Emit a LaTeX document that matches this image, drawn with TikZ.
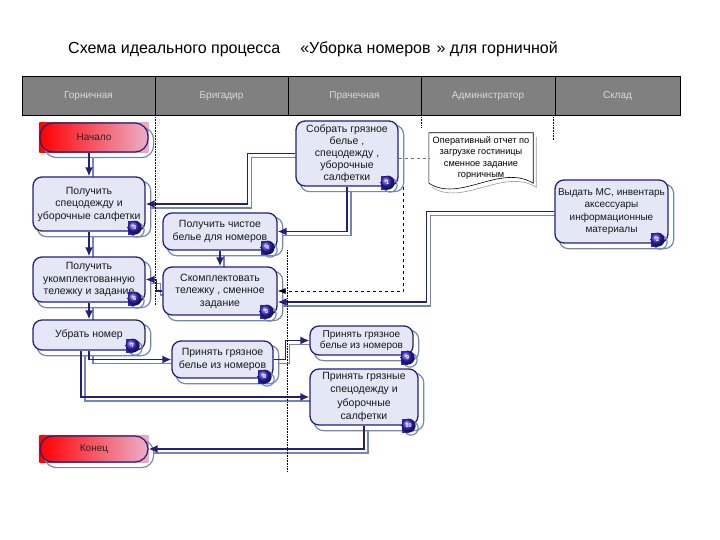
\documentclass[tikz,border=0pt]{standalone}
\usepackage{fontspec}
\setmainfont{Liberation Sans}
\usetikzlibrary{arrows.meta,shadings}
\definecolor{navy}{RGB}{40,30,120}
\definecolor{steel}{RGB}{112,136,182}
\definecolor{procfill}{RGB}{228,231,246}
\definecolor{hdrgray}{RGB}{128,128,128}
\definecolor{badgeblue}{RGB}{50,35,190}
\definecolor{pillpink}{RGB}{235,175,200}
\pgfdeclarelayer{bg}
\pgfsetlayers{bg,main}
\tikzset{
  proc/.style={draw=navy, line width=1.3pt, rounded corners=9pt, fill=procfill, align=center,
    font=\fontsize{10.5}{12.5}\selectfont, inner sep=2pt, text=black!90},
  pill/.style={draw=navy, line width=1.2pt, rounded corners=13pt, left color=red, middle color=red,
    right color=pillpink, minimum width=108pt, font=\fontsize{10}{11}\selectfont, text=black!85},
  hdr/.style={draw=black, line width=1pt, fill=hdrgray, text=white!85!black,
    font=\fontsize{10}{11}\selectfont, minimum height=39pt, inner sep=0pt},
  badge/.style={circle, shading=ball, ball color=badgeblue, minimum size=14pt, inner sep=0pt,
    text=white, font=\fontsize{5.5}{6}\selectfont\bfseries},
  flowshadow/.style={steel, line width=1.4pt, transform canvas={shift={(4pt,-4pt)}}},
  flowmain/.style={navy, line width=1.6pt, -{Latex[length=9pt,width=8pt]}},
  lane/.style={black, line width=0.6pt, densely dotted},
  nshadowline/.style={steel, line width=1.2pt, rounded corners=9pt}
}
\newcommand{\flow}[1]{\draw[flowshadow] #1; \draw[flowmain] #1;}
\newcommand{\nshadow}[1]{\draw[nshadowline] ([shift={(5pt,-5pt)}]#1.north west) rectangle ([shift={(5pt,-5pt)}]#1.south east);}
\newcommand{\mybadge}[4]{%
  \coordinate (#1c) at ([shift={#4}]#2.south east);
  \draw[steel, line width=1.2pt] ([shift={(2.5pt,-2.5pt)}]#1c) circle (7pt);
  \fill[badgeblue] ([shift={(-7pt,-7pt)}]#1c) rectangle ([shift={(0pt,7pt)}]#1c);
  \node[badge] (#1) at (#1c) {#3};}
\begin{document}
\begin{tikzpicture}[x=1pt,y=-1pt]
\useasboundingbox (0,0) rectangle (720,540);
% title
\node[anchor=west, font=\fontsize{16}{18}\selectfont, inner sep=0pt] (title) at (68,49)
  {Схема идеального процесса\hspace{20pt}«Уборка номеров\hspace{6pt}» для горничной};
% header
\node[hdr, minimum width=133pt] (h1) at (88.5,96.5) {Горничная};
\node[hdr, minimum width=133pt] (h2) at (221.5,96.5) {Бригадир};
\node[hdr, minimum width=133pt] (h3) at (354.5,96.5) {Прачечная};
\node[hdr, minimum width=134pt] (h4) at (488,96.5) {Администратор};
\node[hdr, minimum width=125pt] (h5) at (617.5,96.5) {Склад};
% lanes
\draw[lane] (155,117) -- (155,305);
\draw[lane] (287,250) -- (287,472);
\draw[lane] (421,117) -- (421,128);
\draw[lane] (553,117) -- (553,140);
% nodes
\node[pill, minimum height=29pt] (start) at (94,137.5) {Начало};
\node[proc, minimum width=112pt, minimum height=54pt] (n3) at (89,204) {Получить\\спецодежду и\\уборочные салфетки};
\node[proc, minimum width=102pt, minimum height=65pt, font=\fontsize{10.5}{12}\selectfont] (n1) at (347,153.5) {Собрать грязное\\белье ,\\спецодежду ,\\уборочные\\салфетки};
\node[align=center, minimum width=104pt, minimum height=50pt, inner sep=0pt, font=\fontsize{9.2}{11.5}\selectfont] (doc) at (481,158) {Оперативный отчет по\\загрузке гостиницы\\сменное задание\\горничным};
\node[proc, minimum width=113pt, minimum height=63pt, font=\fontsize{10}{12.5}\selectfont] (n2) at (611.5,211.5) {Выдать МС, инвентарь\\аксессуары\\информационные\\материалы};
\node[proc, minimum width=114pt, minimum height=37pt] (n4) at (220,231.5) {Получить чистое\\белье для номеров};
\node[proc, minimum width=112pt, minimum height=45pt] (n6) at (89,279.5) {Получить\\укомплектованную\\тележку и задание};
\node[proc, minimum width=114pt, minimum height=48pt] (n5) at (220,291) {Скомплектовать\\тележку , сменное\\задание};
\node[proc, minimum width=112pt, minimum height=30pt] (n7) at (89,335) {Убрать номер};
\node[proc, minimum width=101pt, minimum height=37pt] (n8) at (222.5,359.5) {Принять грязное\\белье из номеров};
\node[proc, minimum width=103pt, minimum height=29pt, font=\fontsize{10}{11.5}\selectfont] (n9) at (361.5,340.5) {Принять грязное\\белье из номеров};
\node[proc, minimum width=108pt, minimum height=56pt, font=\fontsize{10.5}{13.5}\selectfont] (n10) at (364,397) {Принять грязные\\спецодежду и\\уборочные\\салфетки};
\node[pill, minimum height=26pt] (end) at (94,449) {Конец};
% badges
\mybadge{b1}{n1}{1}{(-11pt,4pt)}
\mybadge{b2}{n2}{2}{(-11pt,4pt)}
\mybadge{b3}{n3}{3}{(-11pt,4pt)}
\mybadge{b4}{n4}{4}{(-10pt,3pt)}
\mybadge{b5}{n5}{5}{(-11pt,4pt)}
\mybadge{b6}{n6}{6}{(-11pt,4pt)}
\mybadge{b7}{n7}{7}{(-13pt,5pt)}
\mybadge{b8}{n8}{8}{(-9pt,2pt)}
\mybadge{b9}{n9}{9}{(-6pt,-2pt)}
\mybadge{b10}{n10}{10}{(-10pt,0pt)}
% background layer: shadows, document shape, connectors
\begin{pgfonlayer}{bg}
  \foreach \p in {start,end}{
    \shade[left color=red, middle color=red!85!pillpink, right color=pillpink] (\p.north west) rectangle (\p.south east);
    \draw[nshadowline, rounded corners=12pt] ([shift={(5pt,-5pt)}]\p.north west) rectangle ([shift={(5pt,-5pt)}]\p.south east);
  }
  \foreach \p in {n1,n2,n3,n4,n5,n6,n7,n8,n9,n10}{\nshadow{\p}}
  % document shadow
  \draw[black!40, line width=0.6pt, transform canvas={shift={(3pt,-4pt)}}]
    (doc.north east) -- (doc.south east) .. controls ([shift={(-33pt,20pt)}]doc.south east) and ([shift={(31pt,-20pt)}]doc.south west) .. (doc.south west);
  \draw[black, line width=0.6pt, fill=white]
    (doc.north west) -- (doc.north east) -- (doc.south east)
    .. controls ([shift={(-33pt,20pt)}]doc.south east) and ([shift={(31pt,-20pt)}]doc.south west) .. (doc.south west) -- cycle;
  % connectors
  \flow{(start.south -| n3.north) -- (n3.north)}
  \flow{(n1.west) -- ++(-48,0) |- (n3.east)}
  \flow{(n1.south) |- (n4.east)}
  \flow{(n3.south) -- (n6.north)}
  \flow{(n4.south) -- (n5.north)}
  \flow{(n5.west) -- ++(-6,0) |- (n6.east)}
  \flow{(n6.south) -- (n7.north)}
  \flow{(n7.south) |- (n8.west)}
  \flow{([xshift=-8pt]n7.south) |- (n10.west)}
  \flow{(n8.east) -- ++(12,0) |- (n9.west)}
  \flow{(n10.south) |- (end.east)}
  \flow{(n2.west) -- ++(-128,0) |- ([yshift=-11pt]n5.east)}
  \draw[black, line width=0.7pt, dashed, -{Latex[length=8pt,width=6pt]}] ([xshift=5pt]n1.south east) |- (n5.east);
  \draw[black!55, line width=0.7pt, dashed] (n1.east |- doc.west) -- (doc.west);
\end{pgfonlayer}
\end{tikzpicture}
\end{document}
